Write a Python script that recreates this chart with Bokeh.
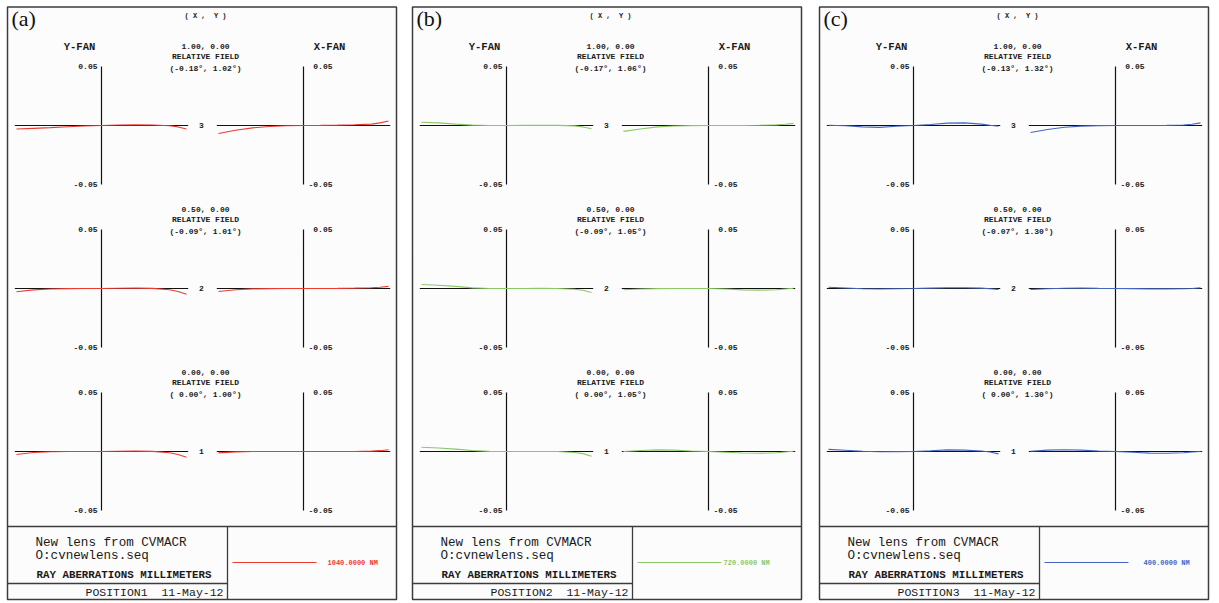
from bokeh.plotting import figure
from bokeh.models import Range1d
from bokeh.core.properties import value
from bokeh.embed import file_html
from bokeh.resources import INLINE

# ---------------- data ----------------
panel_labels = ["(a)", "(b)", "(c)"]
wavelength_labels = ["1040.0000 NM", "720.0000 NM", "400.0000 NM"]
series_colors = ["#ec3b30", "#8cc865", "#4467c0"]
position_labels = ["POSITION1", "POSITION2", "POSITION3"]
date_label = "11-May-12"
lens_title = "New lens from CVMACR"
lens_file = "O:cvnewlens.seq"
plot_title = "RAY ABERRATIONS MILLIMETERS"
field_numbers = ["3", "2", "1"]
field_relative = ["1.00, 0.00", "0.50, 0.00", "0.00, 0.00"]
field_angles_a = ["(-0.18\u00b0, 1.02\u00b0)", "(-0.09\u00b0, 1.01\u00b0)", "(\u00a00.00\u00b0, 1.00\u00b0)"]
field_angles_b = ["(-0.17\u00b0, 1.06\u00b0)", "(-0.09\u00b0, 1.05\u00b0)", "(\u00a00.00\u00b0, 1.05\u00b0)"]
field_angles_c = ["(-0.13\u00b0, 1.32\u00b0)", "(-0.07\u00b0, 1.30\u00b0)", "(\u00a00.00\u00b0, 1.30\u00b0)"]
axis_max = 0.05
tick_labels = ["0.05", "-0.05"]

# relative pupil coordinate
pupil = [-1.0, -0.8, -0.6, -0.4, -0.2, 0.0, 0.2, 0.4, 0.6, 0.8, 0.9, 1.0]

# ray aberrations (mm); field 3, 2, 1 ; Y-FAN and X-FAN
a_f3_yfan = [-0.0030, -0.0024, -0.0018, -0.0010, -0.0004, 0, 0.0004, 0.0005, 0.0004, -0.0002, -0.0012, -0.0030]
a_f3_xfan = [-0.0068, -0.0040, -0.0020, -0.0008, -0.0002, 0, 0.0001, 0.0003, 0.0006, 0.0012, 0.0022, 0.0038]
a_f2_yfan = [-0.0028, -0.0012, -0.0004, -0.0001, 0, 0, 0.0002, 0.0003, 0.0001, -0.0010, -0.0025, -0.0048]
a_f2_xfan = [-0.0026, -0.0010, -0.0003, -0.0001, 0, 0, 0, 0.0001, 0.0003, 0.0006, 0.0010, 0.0018]
a_f1_yfan = [-0.0026, -0.0008, -0.0002, 0, 0, 0, 0.0002, 0.0003, 0.0001, -0.0010, -0.0026, -0.0048]
a_f1_xfan = [-0.0012, -0.0003, 0, 0, 0, 0, 0, 0, 0, 0.0003, 0.0007, 0.0015]

b_f3_yfan = [0.0028, 0.0022, 0.0012, 0.0003, 0, 0, 0.0001, 0.0002, 0.0001, -0.0003, -0.0012, -0.0028]
b_f3_xfan = [-0.0050, -0.0030, -0.0012, -0.0004, -0.0001, 0, 0, 0, 0.0002, 0.0005, 0.0010, 0.0018]
b_f2_yfan = [0.0034, 0.0028, 0.0018, 0.0005, 0, 0, 0, 0.0001, 0, -0.0006, -0.0015, -0.0034]
b_f2_xfan = [-0.0010, -0.0004, -0.0001, 0, 0, 0, -0.0004, -0.0012, -0.0014, -0.0010, -0.0004, 0.0002]
b_f1_yfan = [0.0036, 0.0030, 0.0020, 0.0008, 0.0001, 0, 0, 0, 0, -0.0008, -0.0018, -0.0040]
b_f1_xfan = [0, 0.0008, 0.0014, 0.0012, 0.0004, 0, -0.0006, -0.0013, -0.0015, -0.0010, -0.0004, 0.0002]

c_f3_yfan = [0.0002, -0.0002, -0.0012, -0.0016, -0.0006, 0, 0.0008, 0.0020, 0.0022, 0.0012, 0.0002, -0.0006]
c_f3_xfan = [-0.0060, -0.0034, -0.0015, -0.0005, -0.0001, 0, 0, 0, 0.0001, 0.0004, 0.0010, 0.0022]
c_f2_yfan = [0.0010, 0.0004, -0.0002, -0.0004, -0.0002, 0, 0.0003, 0.0006, 0.0006, 0.0003, -0.0002, -0.0008]
c_f2_xfan = [-0.0008, -0.0002, 0.0002, 0.0003, 0.0001, 0, -0.0001, -0.0003, -0.0003, -0.0002, 0, 0.0006]
c_f1_yfan = [0.0018, 0.0010, 0.0002, -0.0002, -0.0001, 0, 0.0006, 0.0014, 0.0012, 0.0004, -0.0004, -0.0020]
c_f1_xfan = [0.0002, 0.0012, 0.0015, 0.0012, 0.0004, 0, -0.0006, -0.0014, -0.0015, -0.0010, -0.0004, 0]

panels = [
    dict(label=panel_labels[0], color=series_colors[0], wl=wavelength_labels[0], pos=position_labels[0],
         angles=field_angles_a,
         fans=[(a_f3_yfan, a_f3_xfan), (a_f2_yfan, a_f2_xfan), (a_f1_yfan, a_f1_xfan)]),
    dict(label=panel_labels[1], color=series_colors[1], wl=wavelength_labels[1], pos=position_labels[1],
         angles=field_angles_b,
         fans=[(b_f3_yfan, b_f3_xfan), (b_f2_yfan, b_f2_xfan), (b_f1_yfan, b_f1_xfan)]),
    dict(label=panel_labels[2], color=series_colors[2], wl=wavelength_labels[2], pos=position_labels[2],
         angles=field_angles_c,
         fans=[(c_f3_yfan, c_f3_xfan), (c_f2_yfan, c_f2_xfan), (c_f1_yfan, c_f1_xfan)]),
]

# ---------------- layout (page pixels) ----------------
W, H = 1215, 601
X_MIN, X_MAX = 0, W
Y_MIN, Y_MAX = 0, H
PANEL_X0 = [7, 412, 819]
PANEL_W = 389
PANEL_TOP, PANEL_BOT = 6.5, 599
ROW_CY = [125, 288, 451]
FAN_CX = [94, 296]          # relative to panel left
FAN_HW = 85                 # px per unit pupil
FAN_HH = 59                 # px per axis_max
BOX_TOP, BOX_MID = 526, 583
BOX_SPLIT = 220
LEG_TEXT_X = [320, 311, 324]

MONO = value("Liberation Mono")
INK = "#1a1a1a"
SP = "\u00a0"

p = figure(width=W, height=H, x_range=Range1d(X_MIN, X_MAX), y_range=Range1d(Y_MAX, Y_MIN),
           output_backend="svg", toolbar_location=None, min_border=0)
p.axis.visible = False
p.grid.visible = False
p.outline_line_color = None
p.background_fill_color = "white"
p.border_fill_color = "white"

# sub-plot ranges (pupil -> x, mm -> y)
for i, x0 in enumerate(PANEL_X0):
    for f, fc in enumerate(FAN_CX):
        cx = x0 + fc
        p.extra_x_ranges[f"pup{i}{f}"] = Range1d((X_MIN - cx) / FAN_HW, (X_MAX - cx) / FAN_HW)
for r, cy in enumerate(ROW_CY):
    p.extra_y_ranges[f"mm{r}"] = Range1d((cy - Y_MAX) * axis_max / FAN_HH, (cy - Y_MIN) * axis_max / FAN_HH)

for i, (x0, pan) in enumerate(zip(PANEL_X0, panels)):
    x1 = x0 + PANEL_W
    # frame
    p.quad(left=[x0], right=[x1], top=[PANEL_TOP], bottom=[PANEL_BOT],
           fill_color="#fcfcfc", line_color="#3c3c3c", line_width=1.5)
    p.segment(x0=[x0, x0 + BOX_SPLIT, x0], y0=[BOX_TOP, BOX_TOP, BOX_MID],
              x1=[x1, x0 + BOX_SPLIT, x0 + BOX_SPLIT], y1=[BOX_TOP, PANEL_BOT, BOX_MID],
              line_color="#3c3c3c", line_width=1.3)
    # headers
    p.text(x=[x0 + 4], y=[18], text=[pan["label"]], text_font=value("Liberation Serif"),
           text_font_size="22px", text_align="left", text_baseline="middle", text_color="#111")
    p.text(x=[x0 + 198], y=[15], text=["(" + SP + "X" + SP + "," + SP + SP + "Y" + SP + ")"],
           text_font=MONO, text_font_size="7px",
           text_font_style="bold", text_align="center", text_baseline="middle", text_color=INK)
    p.text(x=[x0 + 72, x0 + 322], y=[46, 46], text=["Y-FAN", "X-FAN"], text_font=MONO,
           text_font_size="10.5px", text_font_style="bold", text_align="center",
           text_baseline="middle", text_color=INK)

    for r, cy in enumerate(ROW_CY):
        p.text(x=[x0 + 198] * 3, y=[cy - 79, cy - 69, cy - 57],
               text=[field_relative[r], "RELATIVE FIELD", pan["angles"][r]],
               text_font=MONO, text_font_size="8px", text_font_style="bold",
               text_align="center", text_baseline="middle", text_color=INK)
        p.text(x=[x0 + 194], y=[cy], text=[field_numbers[r]], text_font=MONO, text_font_size="8px",
               text_font_style="bold", text_align="center", text_baseline="middle", text_color=INK)
        for f in range(2):
            xr, yr = f"pup{i}{f}", f"mm{r}"
            # axes
            p.segment(x0=[-1.02, 0], y0=[0, -axis_max], x1=[1.02, 0], y1=[0, axis_max],
                      x_range_name=xr, y_range_name=yr, line_color="#111", line_width=1.2)
            lab_x = -4 / FAN_HW if f == 0 else 29 / FAN_HW
            p.text(x=[lab_x, lab_x], y=[axis_max, -axis_max], text=tick_labels,
                   x_range_name=xr, y_range_name=yr, text_font=MONO, text_font_size="8px",
                   text_font_style="bold", text_align="right", text_baseline="middle", text_color=INK)
            # fan curve
            p.line(x=pupil, y=pan["fans"][r][f], x_range_name=xr, y_range_name=yr,
                   line_color=pan["color"], line_width=1.1)

    # info box
    p.text(x=[x0 + 28, x0 + 28], y=[542, 555], text=[lens_title, lens_file], text_font=MONO,
           text_font_size="12.6px", text_align="left", text_baseline="middle", text_color=INK)
    p.text(x=[x0 + 29], y=[574], text=[plot_title], text_font=MONO, text_font_size="10.8px",
           text_font_style="bold", text_align="left", text_baseline="middle", text_color=INK)
    p.text(x=[x0 + 216], y=[592], text=[pan["pos"] + SP + SP + date_label], text_font=MONO,
           text_font_size="11.5px", text_align="right", text_baseline="middle", text_color=INK)
    # legend
    p.segment(x0=[x0 + 225], y0=[562], x1=[x0 + 309], y1=[562], line_color=pan["color"], line_width=1.2)
    p.text(x=[x0 + LEG_TEXT_X[i]], y=[562], text=[pan["wl"]], text_font=MONO, text_font_size="7px",
           text_font_style="bold", text_align="left", text_baseline="middle", text_color=pan["color"])

open("out.html", "w").write(file_html(p, INLINE))
